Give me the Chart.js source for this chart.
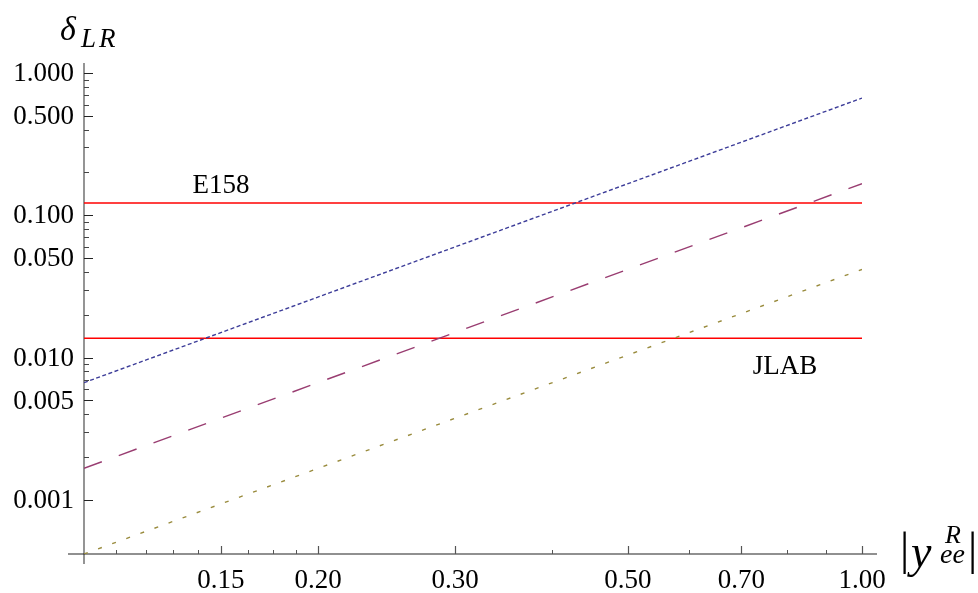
<!DOCTYPE html>
<html>
<head>
<meta charset="utf-8">
<script src="https://cdn.jsdelivr.net/npm/chart.js@4.4.1/dist/chart.umd.min.js"></script>
<style>
html,body{margin:0;padding:0;background:#fff;}
#wrap{width:978px;height:593px;position:relative;}
</style>
</head>
<body>
<div id="wrap"><canvas id="c" width="978" height="593"></canvas></div>
<script>
// ---- data ----
const xValues = [0.1, 1.0];
const blueSeries = [0.00667, 0.667];
const purpleSeries = [0.00167, 0.167];
const oliveSeries = [0.000417, 0.0417];
const e158Level = 0.122;
const jlabLevel = 0.0137;

const xTickValues = [0.15, 0.2, 0.3, 0.5, 0.7, 1.0];
const xTickLabels = ["0.15", "0.20", "0.30", "0.50", "0.70", "1.00"];
const xMinorTicks = [0.11, 0.12, 0.13, 0.14, 0.1625, 0.175, 0.1875, 0.4, 0.6, 0.8, 0.9];
const yTickValues = [1, 0.5, 0.1, 0.05, 0.01, 0.005, 0.001];
const yTickLabels = ["1.000", "0.500", "0.100", "0.050", "0.010", "0.005", "0.001"];
const yMinorTicks = [0.9, 0.8, 0.7, 0.6, 0.4, 0.3, 0.2,
                     0.09, 0.08, 0.07, 0.06, 0.04, 0.03, 0.02,
                     0.009, 0.008, 0.007, 0.006, 0.004, 0.003, 0.002];

const xMin = 0.1, xMax = 1.0;
const yMin = 0.000417, yMax = 1.176;

function pts(ys){ return xValues.map((x,i)=>({x:x, y:ys[i]})); }

const axesPlugin = {
  id: 'mmaAxes',
  beforeDatasetsDraw(chart){
    const ctx = chart.ctx, xs = chart.scales.x, ys = chart.scales.y;
    const x0 = xs.getPixelForValue(xMin), y0 = ys.getPixelForValue(yMin);
    const yTop = ys.getPixelForValue(yMax), xRight = xs.getPixelForValue(xMax);
    ctx.save();
    ctx.setLineDash([]);
    ctx.strokeStyle = '#7a7a7a'; ctx.lineWidth = 1.6;
    ctx.beginPath(); ctx.moveTo(x0, yTop); ctx.lineTo(x0, y0 + 10); ctx.stroke();
    ctx.strokeStyle = '#222'; ctx.lineWidth = 1.2;
    ctx.beginPath(); ctx.moveTo(x0 - 16, y0); ctx.lineTo(xRight + 15, y0); ctx.stroke();
    ctx.strokeStyle = '#222'; ctx.lineWidth = 1;
    yTickValues.forEach(v=>{ const p = Math.round(ys.getPixelForValue(v))+0.5;
      ctx.beginPath(); ctx.moveTo(x0, p); ctx.lineTo(x0 + 9, p); ctx.stroke(); });
    ctx.strokeStyle = '#444';
    yMinorTicks.forEach(v=>{ const p = Math.round(ys.getPixelForValue(v))+0.5;
      ctx.beginPath(); ctx.moveTo(x0, p); ctx.lineTo(x0 + 5, p); ctx.stroke(); });
    ctx.strokeStyle = '#555'; ctx.lineWidth = 1.2;
    xTickValues.forEach(v=>{ const p = Math.round(xs.getPixelForValue(v))+0.5;
      ctx.beginPath(); ctx.moveTo(p, y0); ctx.lineTo(p, y0 - 8); ctx.stroke(); });
    ctx.lineWidth = 1;
    xMinorTicks.forEach(v=>{ const p = Math.round(xs.getPixelForValue(v))+0.5;
      ctx.beginPath(); ctx.moveTo(p, y0); ctx.lineTo(p, y0 - 4); ctx.stroke(); });
    ctx.restore();
  },
  afterDatasetsDraw(chart){
    const ctx = chart.ctx, xs = chart.scales.x, ys = chart.scales.y;
    const x0 = xs.getPixelForValue(xMin);
    ctx.save();
    ctx.fillStyle = '#000';
    ctx.font = '27px "Liberation Serif"';
    ctx.textAlign = 'right'; ctx.textBaseline = 'middle';
    yTickValues.forEach((v,i)=>{ ctx.fillText(yTickLabels[i], x0 - 10, ys.getPixelForValue(v) + 1); });
    ctx.textAlign = 'center'; ctx.textBaseline = 'alphabetic';
    xTickValues.forEach((v,i)=>{ ctx.fillText(xTickLabels[i], xs.getPixelForValue(v), 588); });
    ctx.fillText('E158', 221, 193);
    ctx.fillText('JLAB', 785, 374);
    ctx.textAlign = 'left';
    // y-axis title: delta_LR
    ctx.font = 'italic 34px "Liberation Serif"';
    ctx.fillText('\u03B4', 60, 40);
    ctx.font = 'italic 27px "Liberation Serif"';
    if ('letterSpacing' in ctx) ctx.letterSpacing = '3px';
    ctx.fillText('LR', 81, 47);
    if ('letterSpacing' in ctx) ctx.letterSpacing = '0px';
    // x-axis title: |y^R_ee|
    ctx.font = '46px "Liberation Serif"';
    ctx.fillText('|', 900, 564);
    ctx.font = 'italic 46px "Liberation Serif"';
    ctx.fillText('y', 911, 567);
    ctx.font = 'italic 26px "Liberation Serif"';
    ctx.fillText('R', 945, 543);
    ctx.font = 'italic 28px "Liberation Serif"';
    ctx.fillText('ee', 940, 563);
    ctx.font = '46px "Liberation Serif"';
    ctx.fillText('|', 968, 564);
    ctx.restore();
  }
};

new Chart(document.getElementById('c'), {
  type: 'scatter',
  data: {
    datasets: [
      { data: pts(blueSeries), showLine: true, borderColor: '#3d3d99', borderWidth: 1.4, borderDash: [4, 2.5], pointRadius: 0 },
      { data: pts(purpleSeries), showLine: true, borderColor: '#993d71', borderWidth: 1.4, borderDash: [19, 18], pointRadius: 0 },
      { data: pts(oliveSeries), showLine: true, borderColor: '#998b3d', borderWidth: 1.4, borderDash: [4, 11], pointRadius: 0 },
      { data: [{x: xMin, y: e158Level}, {x: xMax, y: e158Level}], showLine: true, borderColor: '#ff0000', borderWidth: 1.5, pointRadius: 0 },
      { data: [{x: xMin, y: jlabLevel}, {x: xMax, y: jlabLevel}], showLine: true, borderColor: '#ff0000', borderWidth: 1.5, pointRadius: 0 }
    ]
  },
  options: {
    responsive: false,
    animation: false,
    devicePixelRatio: 1,
    layout: { padding: { left: 84, right: 116, top: 63, bottom: 39 } },
    plugins: { legend: { display: false }, tooltip: { enabled: false } },
    scales: {
      x: { type: 'logarithmic', min: xMin, max: xMax, display: false },
      y: { type: 'logarithmic', min: yMin, max: yMax, display: false }
    }
  },
  plugins: [axesPlugin]
});
</script>
</body>
</html>
